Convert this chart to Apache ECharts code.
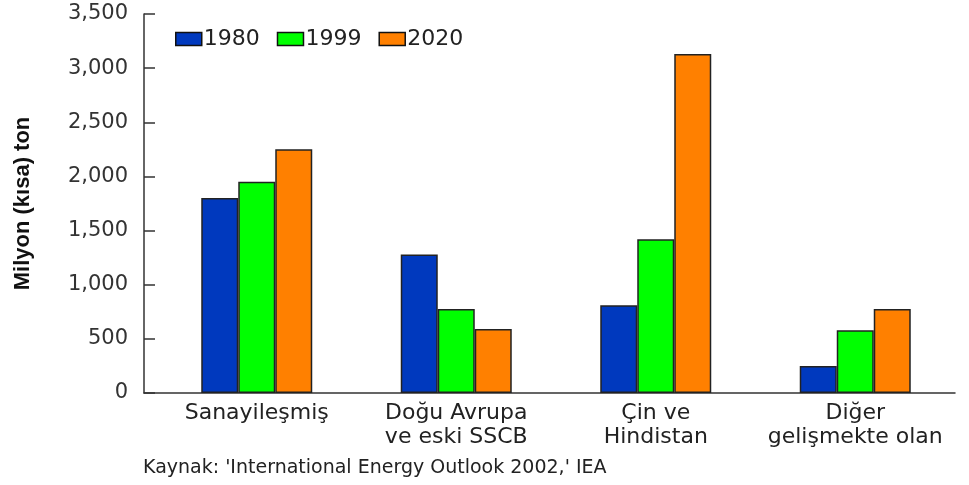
<!DOCTYPE html>
<html>
<head>
<meta charset="utf-8">
<script src="https://cdn.jsdelivr.net/npm/echarts@6/dist/echarts.min.js"></script>
<style>
  html, body { margin: 0; padding: 0; background: #fff; }
  #chart { width: 969px; height: 485px; }
</style>
</head>
<body>
<div id="chart"></div>
<script>
  var categories = ['Sanayileşmiş', 'Doğu Avrupa\nve eski SSCB', 'Çin ve\nHindistan', 'Diğer\ngelişmekte olan'];
  var years = ['1980', '1999', '2020'];
  var values1980 = [1800, 1280, 810, 250];
  var values1999 = [1950, 775, 1420, 580];
  var values2020 = [2250, 590, 3130, 775];
  var colors = ['#0039BE', '#00FF00', '#FF8000'];

  var font = 'DejaVu Sans, sans-serif';
  var boldFont = 'Liberation Sans, Arial, sans-serif';

  function barSeries(name, data, color) {
    return {
      name: name,
      type: 'bar',
      barWidth: 37,
      barGap: '0%',
      data: data,
      itemStyle: {
        color: color,
        borderColor: '#222',
        borderWidth: 1.5
      }
    };
  }

  var myChart = echarts.init(document.getElementById('chart'));
  var option = {
    animation: false,
    color: colors,
    textStyle: { fontFamily: font },
    title: {
      text: "Kaynak: 'International Energy Outlook 2002,' IEA",
      left: 138,
      top: 454,
      textStyle: { fontFamily: font, fontSize: 19, fontWeight: 'normal', color: '#222' }
    },
    legend: {
      data: years,
      left: 170,
      top: 23,
      itemWidth: 26,
      itemHeight: 13,
      itemGap: 17,
      icon: 'rect',
      textStyle: { fontFamily: font, fontSize: 22, color: '#222', padding: [0, 0, 0, -3] },
      itemStyle: { borderColor: '#111', borderWidth: 1.5 }
    },
    grid: [
      // bars
      { left: 157, right: 14, top: 14, bottom: 92 },
      // baseline running from the y axis
      { left: 144, right: 14, top: 14, bottom: 92 }
    ],
    xAxis: [
      {
        type: 'category',
        gridIndex: 0,
        data: categories,
        axisLine: { show: false },
        axisTick: { show: false },
        axisLabel: {
          fontFamily: font,
          fontSize: 22,
          color: '#222',
          lineHeight: 24,
          margin: 8,
          interval: 0
        }
      },
      {
        type: 'value',
        gridIndex: 1,
        axisLine: { show: true, lineStyle: { color: '#333', width: 1.5 } },
        axisTick: { show: false },
        axisLabel: { show: false },
        splitLine: { show: false }
      }
    ],
    yAxis: [
      {
        type: 'value',
        gridIndex: 0,
        min: 0,
        max: 3500,
        interval: 500,
        offset: 13,
        name: 'Milyon (kısa) ton',
        nameLocation: 'middle',
        nameGap: 110,
        nameTextStyle: { fontFamily: boldFont, fontSize: 22, fontWeight: 'bold', color: '#111' },
        axisLine: { show: true, lineStyle: { color: '#333', width: 1.5 } },
        axisTick: { show: true, inside: true, length: 11, lineStyle: { color: '#333', width: 1.5 } },
        splitLine: { show: false },
        axisLabel: {
          fontFamily: font,
          fontSize: 21,
          color: '#333',
          margin: 16,
          formatter: function (v) {
            return v.toString().replace(/\B(?=(\d{3})+(?!\d))/g, ',');
          }
        }
      },
      {
        type: 'value',
        gridIndex: 1,
        show: false
      }
    ],
    series: [
      barSeries(years[0], values1980, colors[0]),
      barSeries(years[1], values1999, colors[1]),
      barSeries(years[2], values2020, colors[2])
    ]
  };
  myChart.setOption(option);
</script>
</body>
</html>
